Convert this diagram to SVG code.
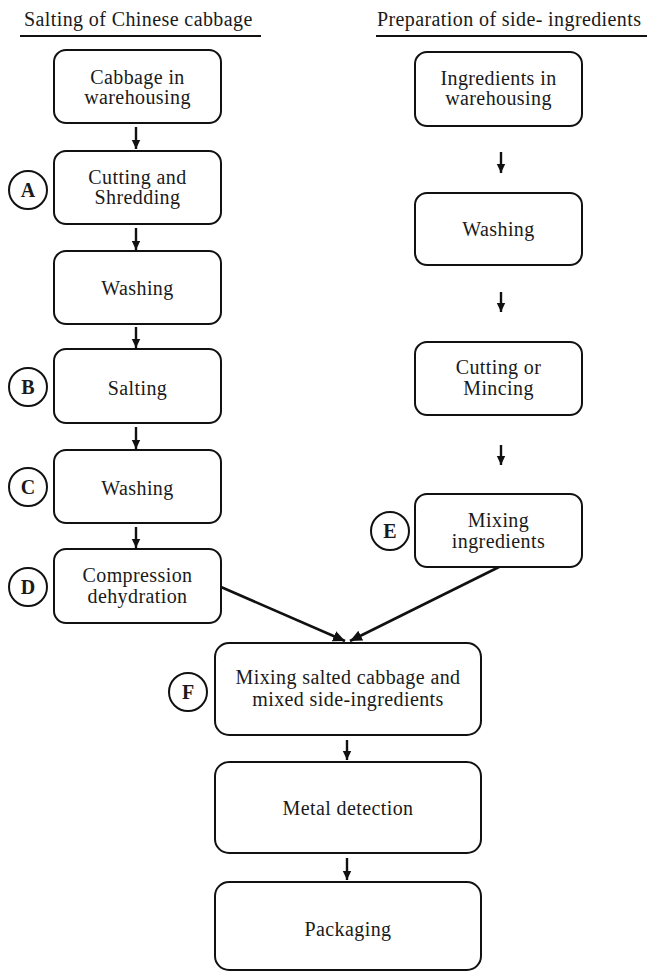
<svg xmlns="http://www.w3.org/2000/svg" width="647" height="972" viewBox="0 0 647 972">
<style>
text{font-family:"Liberation Serif","Times New Roman",serif;font-size:20px;fill:#1a1a1a;letter-spacing:0.4px}
.t{text-anchor:middle}
.box{fill:#fff;stroke:#111;stroke-width:2}
.circ{fill:#fff;stroke:#111;stroke-width:2}
.lbl{text-anchor:middle;font-weight:bold;letter-spacing:0}
.arr{stroke:#111;stroke-width:2.4;fill:none;marker-end:url(#ah)}
.diag{stroke:#111;stroke-width:2.6;fill:none;marker-end:url(#ah2)}
.ul{stroke:#111;stroke-width:2}
</style>
<defs>
<marker id="ah" markerUnits="userSpaceOnUse" markerWidth="10" markerHeight="10" viewBox="0 0 10 10" refX="9" refY="5" orient="auto">
<path d="M0,0.8 L9,5 L0,9.2 Z" fill="#111"/>
</marker>
<marker id="ah2" markerUnits="userSpaceOnUse" markerWidth="13" markerHeight="13" viewBox="0 0 13 13" refX="12" refY="6.5" orient="auto">
<path d="M0,1 L12,6.5 L0,12 Z" fill="#111"/>
</marker>
</defs>
<rect width="647" height="972" fill="#fff"/>

<g id="titles">
<text x="24" y="26">Salting of Chinese cabbage</text>
<line class="ul" x1="20" y1="36" x2="261" y2="36"/>
<text x="377" y="26">Preparation of side- ingredients</text>
<line class="ul" x1="376" y1="36" x2="647" y2="36"/>
</g>

<g id="connectors">
<path class="arr" d="M136 127 L136 149"/>
<path class="arr" d="M136 228 L136 250"/>
<path class="arr" d="M136 327 L136 348"/>
<path class="arr" d="M136 427 L136 449"/>
<path class="arr" d="M136 527 L136 548"/>
<path class="arr" d="M501 152 L501 173"/>
<path class="arr" d="M501 292 L501 312"/>
<path class="arr" d="M501 445 L501 465"/>
<path class="arr" d="M347 740 L347 760"/>
<path class="arr" d="M347 858 L347 880"/>
<path class="diag" d="M221 587 L345 641"/>
<path class="diag" d="M499 567 L350 641"/>
</g>

<g id="n1"><rect class="box" x="54" y="50" width="167" height="73" rx="12"/>
<text class="t" x="137.5" y="84">Cabbage in</text><text class="t" x="137.5" y="104">warehousing</text></g>

<g id="n2"><rect class="box" x="54" y="151" width="167" height="73" rx="12"/>
<text class="t" x="137.5" y="184">Cutting and</text><text class="t" x="137.5" y="204">Shredding</text></g>
<g id="cA"><circle class="circ" cx="28" cy="190" r="19"/><text class="lbl" x="28" y="197">A</text></g>

<g id="n3"><rect class="box" x="54" y="251" width="167" height="73" rx="12"/>
<text class="t" x="137.5" y="295">Washing</text></g>

<g id="n4"><rect class="box" x="54" y="349" width="167" height="74" rx="12"/>
<text class="t" x="137.5" y="395">Salting</text></g>
<g id="cB"><circle class="circ" cx="28" cy="387" r="19"/><text class="lbl" x="28" y="394">B</text></g>

<g id="n5"><rect class="box" x="54" y="450" width="167" height="73" rx="12"/>
<text class="t" x="137.5" y="495">Washing</text></g>
<g id="cC"><circle class="circ" cx="28" cy="487" r="19"/><text class="lbl" x="28" y="494">C</text></g>

<g id="n6"><rect class="box" x="54" y="549" width="167" height="74" rx="12"/>
<text class="t" x="137.5" y="582">Compression</text><text class="t" x="137.5" y="603">dehydration</text></g>
<g id="cD"><circle class="circ" cx="28" cy="587" r="19"/><text class="lbl" x="28" y="594">D</text></g>

<g id="r1"><rect class="box" x="415" y="52" width="167" height="74" rx="12"/>
<text class="t" x="498.5" y="85">Ingredients in</text><text class="t" x="498.5" y="105">warehousing</text></g>

<g id="r2"><rect class="box" x="415" y="193" width="167" height="72" rx="12"/>
<text class="t" x="498.5" y="236">Washing</text></g>

<g id="r3"><rect class="box" x="415" y="342" width="167" height="73" rx="12"/>
<text class="t" x="498.5" y="374">Cutting or</text><text class="t" x="498.5" y="395">Mincing</text></g>

<g id="r4"><rect class="box" x="415" y="494" width="167" height="73" rx="12"/>
<text class="t" x="498.5" y="527">Mixing</text><text class="t" x="498.5" y="548">ingredients</text></g>
<g id="cE"><circle class="circ" cx="390" cy="531" r="19"/><text class="lbl" x="390" y="538">E</text></g>

<g id="m1"><rect class="box" x="215" y="643" width="266" height="92" rx="14"/>
<text class="t" x="348" y="684">Mixing salted cabbage and</text><text class="t" x="348" y="706">mixed side-ingredients</text></g>
<g id="cF"><circle class="circ" cx="188" cy="692" r="19"/><text class="lbl" x="188" y="699">F</text></g>

<g id="m2"><rect class="box" x="215" y="762" width="266" height="91" rx="14"/>
<text class="t" x="348" y="815">Metal detection</text></g>

<g id="m3"><rect class="box" x="215" y="882" width="266" height="88" rx="14"/>
<text class="t" x="348" y="936">Packaging</text></g>
</svg>
